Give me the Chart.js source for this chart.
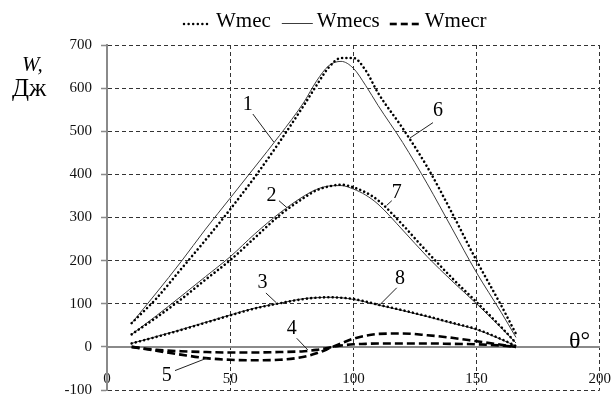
<!DOCTYPE html>
<html>
<head>
<meta charset="utf-8">
<script src="https://cdn.jsdelivr.net/npm/chart.js@4/dist/chart.umd.min.js"></script>
<style>
  html, body { margin: 0; padding: 0; background: #fff; }
  #c { display: block; }
</style>
</head>
<body>
<canvas id="c" width="613" height="408"></canvas>
<script>
// Rotation angle, degrees
const theta = [10, 20, 30, 40, 50, 60, 70, 80, 85, 90, 95, 100, 105, 110, 120, 130, 140, 150, 160, 166];

// Wmecs (solid): curves 1, 2, 3
const wmecs1 = [55, 125, 197, 273, 345, 417, 490, 568, 616, 652, 662, 646, 606, 560, 474, 378, 275, 172, 80, 22];
const wmecs2 = [29, 72, 117, 163, 209, 262, 310, 350, 365, 373, 374, 366, 352, 331, 271, 209, 153, 100, 44, 9];
const wmecs3 = [8, 24, 40, 57, 74, 90, 101, 112, 114, 115, 114, 110, 104, 97, 84, 70, 55, 40, 17, 2];

// Wmec (dotted): curves 6, 7, 8
const wmec6 = [55, 112, 180, 248, 319, 394, 475, 561, 606, 648, 670, 670, 641, 589, 507, 417, 311, 200, 96, 30];
const wmec7 = [29, 68, 110, 156, 201, 253, 305, 346, 363, 372, 376, 370, 358, 340, 283, 220, 160, 104, 46, 9];
const wmec8 = [8, 23, 39, 56, 73, 89, 101, 111, 114, 115, 114, 111, 105, 98, 85, 71, 56, 41, 18, 2];

// Wmecr (dashed): curves 4, 5
const wmecr4 = [0, -7, -10, -12, -13, -13, -12, -10, -7, -2, 3, 6, 7, 8, 8, 8, 7, 6, 3, 0];
const wmecr5 = [0, -9, -18, -26, -30, -31, -30, -23, -15, -4, 8, 19, 26, 30, 31, 27, 21, 13, 5, 0];

// Axis ticks
const xTicks = [0, 50, 100, 150, 200];
const yTicks = [-100, 0, 100, 200, 300, 400, 500, 600, 700];

// Legend entries
const seriesNames = ['Wmec', 'Wmecs', 'Wmecr'];

// Curve numbers with their leader lines, in (θ, W) units
const curveNumbers = ['1', '2', '3', '4', '5', '6', '7', '8'];
const numberAt = [[57.1, 561], [66.8, 351], [63.1, 148], [75, 42], [24.3, -66], [134.3, 547], [117.6, 357], [118.9, 157]];
const leaderFrom = [[59.2, 540], [69.8, 339], [64.5, 125], [77, 20], [27.6, -55], [132.3, 520], [115.6, 339], [117.6, 137]];
const leaderTo = [[67.7, 475], [73, 323], [68.6, 103], [81.5, -7], [40.6, -26], [122.9, 484], [113.5, 328], [110.8, 98]];

const SERIF = '"Liberation Serif", "Times New Roman", serif';

const pts = arr => theta.map((t, i) => ({ x: t, y: arr[i] }));

const solidStyle = { borderColor: '#3c3c3c', borderWidth: 1, borderDash: [] };
const dottedStyle = { borderColor: '#000', borderWidth: 2.6, borderDash: [0.01, 4.3], borderCapStyle: 'round' };
const dashedStyle = { borderColor: '#000', borderWidth: 2.6, borderDash: [8, 4], borderCapStyle: 'butt' };

const datasets = [
  Object.assign({ label: seriesNames[1], data: pts(wmecs1), order: 3 }, solidStyle),
  Object.assign({ label: seriesNames[1], data: pts(wmecs2), order: 3 }, solidStyle),
  Object.assign({ label: seriesNames[1], data: pts(wmecs3), order: 3 }, solidStyle),
  Object.assign({ label: seriesNames[0], data: pts(wmec6), order: 2 }, dottedStyle),
  Object.assign({ label: seriesNames[0], data: pts(wmec7), order: 2 }, dottedStyle),
  Object.assign({ label: seriesNames[0], data: pts(wmec8), order: 2 }, dottedStyle),
  Object.assign({ label: seriesNames[2], data: pts(wmecr4), order: 1 }, dashedStyle),
  Object.assign({ label: seriesNames[2], data: pts(wmecr5), order: 1 }, dashedStyle)
];

// Legend, axis captions and curve numbers
const decorations = {
  id: 'decorations',
  afterDraw(chart) {
    const ctx = chart.ctx;
    const xs = chart.scales.x, ys = chart.scales.y;
    const px = v => xs.getPixelForValue(v);
    const py = v => ys.getPixelForValue(v);

    ctx.save();
    // legend
    ctx.font = '21px ' + SERIF;
    ctx.fillStyle = '#000';
    ctx.textBaseline = 'middle';
    ctx.textAlign = 'left';
    const ly = 21;
    let lx = 182;
    // dotted sample
    for (let i = 0; i < 6; i++) {
      ctx.beginPath();
      ctx.arc(lx + 2 + i * 4.6, ly + 3, 1.25, 0, Math.PI * 2);
      ctx.fill();
    }
    lx += 34;
    ctx.fillText(seriesNames[0], lx, ly);
    lx += ctx.measureText(seriesNames[0]).width + 11;
    // solid sample
    ctx.strokeStyle = '#3c3c3c';
    ctx.lineWidth = 1;
    ctx.beginPath();
    ctx.moveTo(lx, ly + 2.5);
    ctx.lineTo(lx + 31, ly + 2.5);
    ctx.stroke();
    lx += 35;
    ctx.fillText(seriesNames[1], lx, ly);
    lx += ctx.measureText(seriesNames[1]).width + 10;
    // dashed sample
    ctx.strokeStyle = '#000';
    ctx.lineWidth = 2.6;
    for (let i = 0; i < 3; i++) {
      ctx.beginPath();
      ctx.moveTo(lx + i * 11, ly + 3);
      ctx.lineTo(lx + i * 11 + 7, ly + 3);
      ctx.stroke();
    }
    lx += 35;
    ctx.fillText(seriesNames[2], lx, ly);

    // y caption
    ctx.textBaseline = 'alphabetic';
    ctx.textAlign = 'left';
    ctx.font = 'italic 21px ' + SERIF;
    ctx.fillText('W,', 22, 71);
    ctx.font = '25px ' + SERIF;
    ctx.fillText('Дж', 12, 96);

    // x caption
    ctx.font = '24px ' + SERIF;
    ctx.fillText('θ°', 569, 348);

    // curve numbers with leaders
    ctx.strokeStyle = '#222';
    ctx.lineWidth = 1;
    ctx.font = '20px ' + SERIF;
    ctx.textAlign = 'center';
    ctx.textBaseline = 'middle';
    curveNumbers.forEach((t, i) => {
      ctx.beginPath();
      ctx.moveTo(px(leaderFrom[i][0]), py(leaderFrom[i][1]));
      ctx.lineTo(px(leaderTo[i][0]), py(leaderTo[i][1]));
      ctx.stroke();
      ctx.fillText(t, px(numberAt[i][0]), py(numberAt[i][1]));
    });
    ctx.restore();
  }
};

new Chart(document.getElementById('c'), {
  type: 'line',
  data: { datasets },
  options: {
    responsive: false,
    animation: false,
    devicePixelRatio: 1,
    layout: { padding: { top: 45, right: 13, bottom: 8, left: 0 } },
    plugins: { legend: { display: false }, tooltip: { enabled: false } },
    elements: {
      point: { radius: 0, hoverRadius: 0 },
      line: { tension: 0.4, cubicInterpolationMode: 'monotone', fill: false }
    },
    scales: {
      x: {
        type: 'linear',
        min: 0, max: 200,
        position: { y: 0 },
        afterBuildTicks: s => { s.ticks = xTicks.map(v => ({ value: v })); },
        ticks: { color: '#111', font: { family: SERIF, size: 15 }, padding: 2, maxRotation: 0 },
        // invisible tick marks keep the labels clear of the zero line
        grid: { color: '#333', lineWidth: 1, drawTicks: true, tickLength: 21, tickWidth: 0 },
        border: { display: true, color: '#8a8a8a', width: 2, dash: [4, 3] }
      },
      y: {
        type: 'linear',
        min: -100, max: 700,
        afterBuildTicks: s => { s.ticks = yTicks.map(v => ({ value: v })); },
        afterFit: s => { s.width = 107; },
        ticks: { color: '#111', font: { family: SERIF, size: 15 }, padding: 9 },
        grid: { color: '#333', lineWidth: 1, tickLength: 6, tickColor: '#8a8a8a', tickWidth: 1.5, tickBorderDash: [] },
        border: { display: true, color: '#8a8a8a', width: 2, dash: [4, 3] }
      }
    }
  },
  plugins: [decorations]
});
</script>
</body>
</html>
